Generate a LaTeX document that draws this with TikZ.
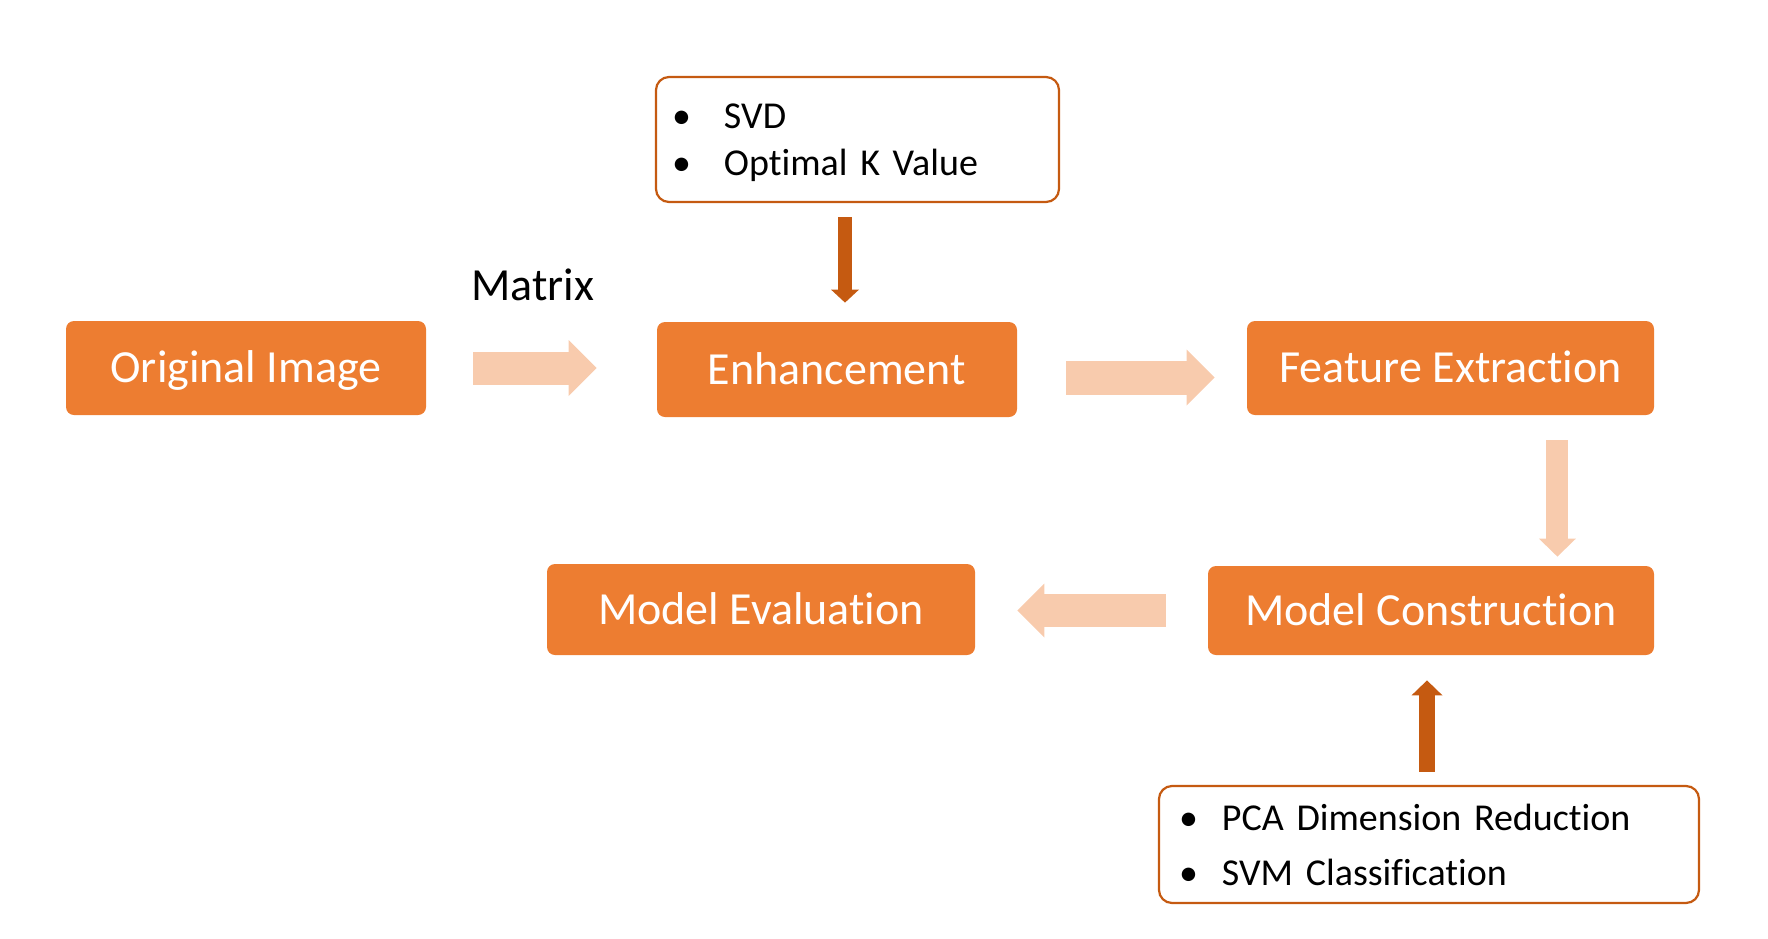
\documentclass[tikz,border=0pt]{standalone}
\usepackage{fontspec}
\setmainfont{Carlito}[RawFeature={-liga;-clig;-dlig;-calt;-hlig}]
\usetikzlibrary{arrows.meta}
\definecolor{boxorange}{HTML}{ED7D31}
\definecolor{lightorange}{HTML}{F8CBAD}
\definecolor{darkorange}{HTML}{C55A11}

\begin{document}
\begin{tikzpicture}[x=0.5pt, y=-0.5pt,
    stage/.style={fill=boxorange, rounded corners=4pt, text=white,
        font=\fontsize{23pt}{27pt}\selectfont, text height=14.8pt,
        text depth=0pt, inner sep=0pt},
    notes/.style={draw=darkorange, line width=1.1pt, rounded corners=6.5pt,
        align=left, inner ysep=0pt},
    flow/.style={draw=lightorange, line width=16.5pt,
        -{Triangle[width=28pt, length=14pt, line width=0pt]}},
    feed/.style={draw=darkorange, line width=7pt,
        -{Triangle[width=14pt, length=6.5pt, line width=0pt]}}]
                \useasboundingbox (0,0) rectangle (1768,938);
                % The main stages
                \node[stage, minimum width=180pt, minimum height=47pt] (orig) at (246,368) {Original Image};
                \node[stage, minimum width=180pt, minimum height=47.5pt] (enh) at (837,369.5) {Enhancement};
                \node[stage, minimum width=203.5pt, minimum height=47pt] (feat) at (1450.5,368) {Feature Extraction};
                \node[stage, minimum width=223pt, minimum height=44.5pt] (mc) at (1431,610.5) {Model Construction};
                \node[stage, minimum width=214pt, minimum height=45.5pt] (me) at (761,609.5) {Model Evaluation};
                % The two boxes of methods
                \node[notes, text width=185.5pt, inner xsep=8pt, minimum height=62.5pt,
                    font=\fontsize{19pt}{23.5pt}\selectfont] (svd) at (857.5,139.5)
                    {\rule{0pt}{16pt}\makebox[26pt][l]{\textbullet}SVD\\
                     \makebox[26pt][l]{\textbullet}Optimal K Value};
                \node[notes, text width=250pt, inner xsep=10pt, minimum height=58.5pt,
                    font=\fontsize{19pt}{27.5pt}\selectfont] (pca) at (1429,844.5)
                    {\makebox[21.5pt][l]{\textbullet}PCA Dimension Reduction\\
                     \makebox[21.5pt][l]{\textbullet}SVM Classification};
                % Label over the first arrow
                \node[anchor=base, font=\fontsize{23pt}{27pt}\selectfont] (mtx) at (532.5,300) {Matrix};
                % The flow between the stages
                \draw[flow, shorten <=23.5pt, shorten >=30pt] (orig.east) -- (orig.east -| enh.west);
                \draw[flow, line width=17pt, shorten <=24.5pt, shorten >=16pt]
                    ([yshift=-4pt]enh.east) -- ([yshift=-4pt]enh.east -| feat.west);
                \draw[flow, line width=11pt, -{Triangle[width=18.5pt, length=9pt, line width=0pt]},
                    shorten <=12.5pt, shorten >=4.5pt]
                    ([xshift=-48.5pt]feat.south east) -- ([xshift=-48.5pt]feat.south east |- mc.north);
                \draw[flow, -{Triangle[width=27pt, length=13.5pt, line width=0pt]},
                    shorten <=21pt, shorten >=21pt] (mc.west) -- (mc.west -| me.east);
                % The methods feeding the stages
                \draw[feed, shorten <=7pt, shorten >=9.5pt]
                    ([xshift=-6.25pt]svd.south) -- ([xshift=-6.25pt]svd.south |- enh.north);
                \draw[feed, line width=8pt, -{Triangle[width=15.5pt, length=7.5pt, line width=0pt]},
                    shorten <=6.5pt, shorten >=12.5pt]
                    ([xshift=-1pt]pca.north) -- ([xshift=-1pt]pca.north |- mc.south);
\end{tikzpicture}
\end{document}
